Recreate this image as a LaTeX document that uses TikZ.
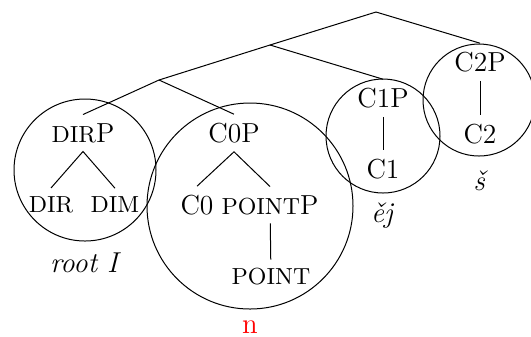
\documentclass[tikz,border=0pt]{standalone}
\newcommand{\smc}[1]{{\fontsize{9.3}{11}\selectfont #1}}
\begin{document}
\begin{tikzpicture}[x=0.4pt, y=-0.4pt,
    cat/.style={font=\fontsize{11}{13}\selectfont},
    gloss/.style={font=\fontsize{11.5}{13}\selectfont\itshape, anchor=base}]
    \useasboundingbox (0,0) rectangle (531,336);

    % Circles
    \draw (85,170) circle (71);
    \draw (250,206) circle (103);
    \draw (383,136) circle (57);
    \draw (479,100) circle (56);

    % Branching points
    \coordinate (top) at (376,12);
    \coordinate (mid) at (270,45);
    \coordinate (low) at (159,80);

    % Categories
    \node[cat] (dirp) at (83,133) {\smc{DIR}P};
    \node[cat] (dir) at (51,205) {\smc{DIR}};
    \node[cat] (dim) at (115,205) {\smc{DIM}};
    \node[cat] (c0p) at (234,133) {C0P};
    \node[cat] (c0) at (197,205) {C0};
    \node[cat] (pointp) at (270,205) {\smc{POINT}P};
    \node[cat] (point) at (271,277) {\smc{POINT}};
    \node[cat] (c1p) at (383,98) {C1P};
    \node[cat] (c1) at (383,169) {C1};
    \node[cat] (c2p) at (480,62) {C2P};
    \node[cat] (c2) at (480,134) {C2};

    % Branches
    \draw (top) -- (mid) -- (low);
    \draw (top) -- (c2p.north);
    \draw (mid) -- (c1p.north);
    \draw (low) -- (dirp.north);
    \draw (low) -- (c0p.north);
    \draw (dir.north) -- (dirp.south) -- (dim.north);
    \draw (c0.north) -- (c0p.south) -- (pointp.north);
    \draw (pointp) -- (point);
    \draw (c1p) -- (c1);
    \draw (c2p) -- (c2);

    % Labels
    \node[gloss] (rootI) at (84,272) {root I};
    \node[gloss, red, font=\fontsize{11.5}{13}\selectfont] (n) at (250,333) {n};
    \node[gloss] (ej) at (382,222) {ěj};
    \node[gloss] (s) at (479,190) {š};
\end{tikzpicture}
\end{document}
